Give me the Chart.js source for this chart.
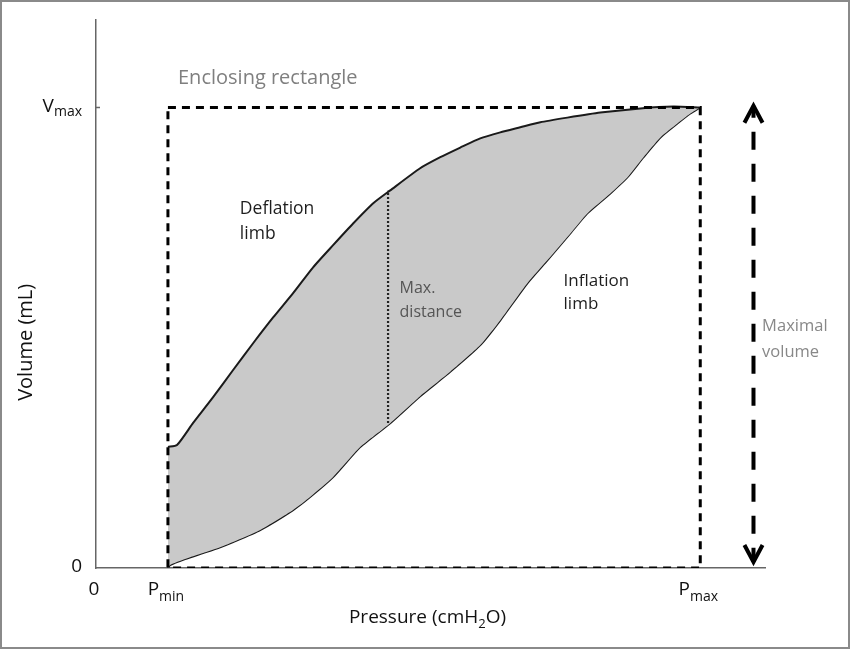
<!DOCTYPE html>
<html>
<head>
<meta charset="utf-8">
<script src="https://cdn.jsdelivr.net/npm/chart.js@4"></script>
<style>
html,body{margin:0;padding:0;background:#fff;}
#wrap{width:850px;height:649px;position:relative;}
</style>
</head>
<body>
<div id="wrap"><canvas id="c" width="850" height="649"></canvas></div>
<script>
// ---- data (pressure in cmH2O-like units, volume in % of Vmax) ----
const pMin = 5;
const pMax = 42;
const vMax = 100;

const deflationP = [5.0, 5.63, 6.75, 8.14, 9.53, 10.92, 12.31, 13.70, 15.09, 16.48, 17.87, 19.27, 20.45, 22.53, 23.93, 25.32, 26.71, 28.10, 29.49, 30.88, 32.76, 35.05, 37.84, 40.13, 42.0];
const deflationV = [26.3, 26.7, 31.5, 37.1, 43.0, 48.8, 54.4, 59.7, 65.3, 70.1, 74.8, 79.2, 82.0, 86.8, 89.2, 91.3, 93.3, 94.6, 95.7, 96.8, 97.8, 98.9, 99.8, 100.2, 100.0];

const inflationP = [5.0, 5.15, 6.19, 7.44, 8.49, 9.53, 11.41, 13.70, 14.88, 16.48, 18.36, 20.45, 22.53, 24.62, 26.71, 28.10, 29.98, 31.37, 32.97, 34.15, 35.75, 36.93, 38.04, 39.23, 40.41, 41.31, 42.0];
const inflationV = [0.0, 0.65, 1.95, 3.25, 4.34, 5.64, 8.24, 12.58, 15.40, 19.74, 26.25, 31.45, 37.3, 42.6, 48.4, 53.79, 61.82, 66.81, 72.66, 77.00, 81.34, 84.81, 89.15, 93.49, 96.52, 98.69, 100.0];

const maxDistanceP = 20.3;
const maxDistanceV = [31.5, 81.9];

const arrowP = 45.7;
const arrowV = [100.4, 1.3];

const yTickValues = [0, vMax];
const yTickMain = ['0', 'V'];
const yTickSub = ['', 'max'];
const xTickValues = [0, pMin, pMax];
const xTickMain = ['0', 'P', 'P'];
const xTickSub = ['', 'min', 'max'];

const xTitle = ['Pressure (cmH', '2', 'O)'];
const yTitle = 'Volume (mL)';

const annotations = [
  {text: 'Enclosing rectangle', p: 5.7, v: 106.3, color: '#7f7f7f', size: 20},
  {text: 'Deflation', p: 10.0, v: 77.9, color: '#1e1e1e', size: 17.5},
  {text: 'limb', p: 10.0, v: 72.5, color: '#1e1e1e', size: 17.5},
  {text: 'Max.', p: 21.1, v: 60.6, color: '#555', size: 16},
  {text: 'distance', p: 21.1, v: 55.6, color: '#555', size: 16},
  {text: 'Inflation', p: 32.5, v: 62.3, color: '#1e1e1e', size: 17},
  {text: 'limb', p: 32.5, v: 57.3, color: '#1e1e1e', size: 17},
  {text: 'Maximal', p: 46.3, v: 52.4, color: '#888', size: 16.5},
  {text: 'volume', p: 46.3, v: 46.9, color: '#888', size: 16.5}
];

const FONT = '"Open Sans", Lato, sans-serif';

const zip = (xs, ys) => xs.map((x, i) => ({x: x, y: ys[i]}));

const rectPts = [{x: pMin, y: vMax}, {x: pMax, y: vMax}, {x: pMax, y: 0}, {x: pMin, y: 0}, {x: pMin, y: vMax}];

const headTop = [{x: arrowP - 0.63, y: arrowV[0] - 3.7}, {x: arrowP, y: arrowV[0]}, {x: arrowP + 0.63, y: arrowV[0] - 3.7}];
const headBot = [{x: arrowP - 0.63, y: arrowV[1] + 3.7}, {x: arrowP, y: arrowV[1]}, {x: arrowP + 0.63, y: arrowV[1] + 3.7}];

const textPlugin = {
  id: 'texts',
  afterDraw(chart) {
    const ctx = chart.ctx;
    const xs = chart.scales.x, ys = chart.scales.y;
    ctx.save();
    // outer frame
    ctx.strokeStyle = '#8a8a8a';
    ctx.lineWidth = 2;
    ctx.strokeRect(1, 1, chart.width - 2, chart.height - 2);

    // y ticks
    ctx.textBaseline = 'middle';
    ctx.fillStyle = '#111';
    yTickValues.forEach((v, i) => {
      const y = ys.getPixelForValue(v);
      const right = xs.left - 14;
      ctx.font = '14px ' + FONT;
      const subW = yTickSub[i] ? ctx.measureText(yTickSub[i]).width : 0;
      ctx.font = '19px ' + FONT;
      const mainW = ctx.measureText(yTickMain[i]).width;
      ctx.textAlign = 'left';
      ctx.fillText(yTickMain[i], right - subW - mainW, y - 1);
      if (yTickSub[i]) {
        ctx.font = '14px ' + FONT;
        ctx.fillText(yTickSub[i], right - subW, y + 5);
        ctx.strokeStyle = '#666';
        ctx.lineWidth = 1.5;
        ctx.beginPath();
        ctx.moveTo(xs.left, y);
        ctx.lineTo(xs.left + 4, y);
        ctx.stroke();
      }
    });

    // x ticks
    xTickValues.forEach((p, i) => {
      const x = xs.getPixelForValue(p) - 2;
      const y = ys.bottom + 22;
      ctx.font = '19px ' + FONT;
      const mainW = ctx.measureText(xTickMain[i]).width;
      ctx.font = '14px ' + FONT;
      const subW = xTickSub[i] ? ctx.measureText(xTickSub[i]).width : 0;
      const start = x - (mainW + subW) / 2;
      ctx.textAlign = 'left';
      ctx.font = '19px ' + FONT;
      ctx.fillText(xTickMain[i], start, y);
      if (xTickSub[i]) {
        ctx.font = '14px ' + FONT;
        ctx.fillText(xTickSub[i], start + mainW, y + 7);
      }
    });

    // axis titles
    ctx.font = '19px ' + FONT;
    const w0 = ctx.measureText(xTitle[0]).width;
    const w2 = ctx.measureText(xTitle[2]).width;
    ctx.font = '13px ' + FONT;
    const w1 = ctx.measureText(xTitle[1]).width;
    const cx = (xs.left + xs.right) / 2 - 3;
    const sx = cx - (w0 + w1 + w2) / 2;
    const ty = ys.bottom + 50;
    ctx.font = '19px ' + FONT;
    ctx.fillText(xTitle[0], sx, ty);
    ctx.font = '13px ' + FONT;
    ctx.fillText(xTitle[1], sx + w0, ty + 6);
    ctx.font = '19px ' + FONT;
    ctx.fillText(xTitle[2], sx + w0 + w1, ty);

    ctx.save();
    ctx.translate(26, ys.getPixelForValue(49));
    ctx.rotate(-Math.PI / 2);
    ctx.textAlign = 'center';
    ctx.font = '20px ' + FONT;
    ctx.fillText(yTitle, 0, 0);
    ctx.restore();

    // annotations
    ctx.textAlign = 'left';
    annotations.forEach(a => {
      ctx.font = a.size + 'px ' + FONT;
      ctx.fillStyle = a.color;
      ctx.fillText(a.text, xs.getPixelForValue(a.p), ys.getPixelForValue(a.v));
    });
    ctx.restore();
  }
};

new Chart(document.getElementById('c'), {
  type: 'scatter',
  data: {
    datasets: [
      {label: 'Deflation limb', data: zip(deflationP, deflationV), showLine: true, borderColor: '#1a1a1a', borderWidth: 2, pointRadius: 0, fill: {target: 1}, backgroundColor: '#c9c9c9', order: 5, tension: 0.2},
      {label: 'Inflation limb', data: zip(inflationP, inflationV), showLine: true, borderColor: '#1a1a1a', borderWidth: 2, pointRadius: 0, fill: false, order: 5, tension: 0.2},
      {label: 'Enclosing rectangle', data: rectPts, showLine: true, borderColor: '#000', borderWidth: 3, borderDash: [8, 6], pointRadius: 0, fill: false, order: 1},
      {label: 'Max. distance', data: [{x: maxDistanceP, y: maxDistanceV[0]}, {x: maxDistanceP, y: maxDistanceV[1]}], showLine: true, borderColor: '#222', borderWidth: 2.2, borderDash: [2, 2], pointRadius: 0, fill: false, order: 1},
      {label: 'Maximal volume', data: [{x: arrowP, y: arrowV[0]}, {x: arrowP, y: arrowV[1]}], showLine: true, borderColor: '#000', borderWidth: 4, borderDash: [18, 14], borderDashOffset: 6, pointRadius: 0, fill: false, order: 1},
      {label: 'head top', data: headTop, showLine: true, borderColor: '#000', borderWidth: 4, pointRadius: 0, fill: false, order: 1},
      {label: 'head bottom', data: headBot, showLine: true, borderColor: '#000', borderWidth: 4, pointRadius: 0, fill: false, order: 1}
    ]
  },
  options: {
    responsive: false,
    animation: false,
    layout: {padding: {left: 96, right: 85, top: 20, bottom: 81}},
    plugins: {legend: {display: false}, tooltip: {enabled: false}},
    scales: {
      x: {type: 'linear', min: 0, max: 46.5, grid: {display: false, drawTicks: false}, ticks: {display: false}, border: {display: true, color: '#666', width: 1.5}},
      y: {type: 'linear', min: 0, max: 119, grid: {display: false, drawTicks: false}, ticks: {display: false}, border: {display: true, color: '#666', width: 1.5}}
    },
    elements: {line: {borderCapStyle: 'butt'}}
  },
  plugins: [textPlugin]
});
</script>
</body>
</html>
